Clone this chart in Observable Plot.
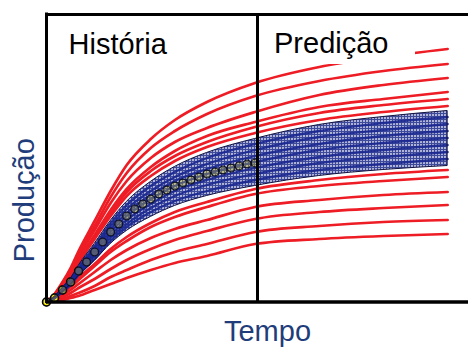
<!DOCTYPE html>
<html><head><meta charset="utf-8">
<script src="https://cdn.jsdelivr.net/npm/d3@7"></script>
<script src="https://cdn.jsdelivr.net/npm/@observablehq/plot@0.6"></script>
<style>
html,body{margin:0;padding:0;background:#fff;}
#wrap{position:relative;width:468px;height:347px;overflow:hidden;font-family:"Liberation Sans",Arial,sans-serif;}
#wrap svg{display:block;}
.box{position:absolute;box-sizing:border-box;background:#fff;color:#000;font-size:29px;line-height:29px;white-space:nowrap;}
</style></head><body><div id="wrap"></div>
<script>
// time steps (x) and production values (y)
const T = [0, 1, 2, 3, 4, 6, 8, 10, 13, 16, 20, 26, 34, 42, 50];
const splitT = 26.3;

// red realisations above the band
const redU1 = [0, 8, 20, 34, 51, 81, 111, 137, 163, 182, 200, 219, 235, 245, 253];
const redU2 = [0, 7, 19, 32, 48, 76, 105, 129, 154, 171, 188, 206, 221, 231, 238];
const redU3 = [0, 7, 18, 30, 45, 72, 99, 121, 144, 160, 174, 190, 207, 217, 224];
const redU4 = [0, 6, 17, 28, 42, 67, 92, 113, 135, 151, 166, 180, 195, 203, 210];
const redU5 = [0, 6, 16, 27, 41, 65, 89, 110, 131, 146, 160, 175, 189, 197, 203];
const redU6 = [0, 6, 16, 26, 39, 63, 86, 106, 126, 141, 155, 169, 182, 190, 196];
// red realisations below the band
const redL1 = [0, 3, 9, 16, 24, 38, 53, 65, 79, 90, 100, 113, 122, 128, 132];
const redL2 = [0, 3, 9, 15, 22, 36, 50, 61, 75, 85, 95, 108, 116, 121, 125];
const redL3 = [0, 2, 7, 12, 18, 30, 42, 52, 64, 73, 82, 95, 102, 107, 110];
const redL4 = [0, 1, 5, 9, 14, 23, 33, 42, 53, 62, 71, 83, 90, 94, 97];
const redL5 = [0, 1, 3, 6, 9, 16, 25, 32, 42, 50, 58, 70, 76, 80, 82];
const redL6 = [0, 1, 2, 4, 6, 12, 18, 24, 32, 39, 46, 58, 63, 66, 68];

// blue (history-matched) realisations forming the band
const blue1 = [0, 4, 10, 17, 26, 41, 58, 71, 85, 96, 106, 116, 126, 132, 136];
const blue2 = [0, 4, 10, 17, 27, 43, 61, 75, 90, 101, 111, 122, 132, 138, 143];
const blue3 = [0, 4, 11, 18, 28, 46, 64, 78, 94, 106, 117, 128, 139, 145, 150];
const blue4 = [0, 4, 11, 19, 30, 48, 67, 82, 98, 111, 122, 134, 145, 152, 157];
const blue5 = [0, 4, 12, 20, 31, 50, 70, 86, 103, 116, 128, 140, 152, 159, 164];
const blue6 = [0, 4, 12, 21, 32, 52, 73, 89, 107, 121, 133, 146, 158, 166, 171];
const blue7 = [0, 5, 13, 22, 33, 54, 76, 93, 111, 125, 138, 152, 165, 172, 178];
const blue8 = [0, 5, 14, 23, 35, 56, 79, 97, 116, 130, 144, 158, 171, 179, 185];
const blue9 = [0, 5, 14, 23, 36, 58, 81, 100, 120, 135, 149, 163, 177, 185, 191];

// observed history (yellow dots)
const dotT = [0,1,2,3,4,5,6,7,8,9,10,11,12,13,14,15,16,17,18,19,20,21,22,23,24,25,26];
const dotH = [0, 4, 12, 20, 31, 40, 50, 60, 70, 78, 86, 93, 98, 103, 108, 112, 116, 119, 122, 125, 128, 130, 132, 134, 136, 138, 139];

const labels = {y: "Produção", x: "Tempo", left: "História", right: "Predição"};

const toRows = (curves) => curves.flatMap((c, k) => T.map((t, i) => ({t, h: c[i], id: k})));
const redRows = toRows([redU1, redU2, redU3, redU4, redU5, redU6, redL1, redL2, redL3, redL4, redL5, redL6]);
const blueCurves = [blue1, blue2, blue3, blue4, blue5, blue6, blue7, blue8, blue9];
const innerRows = toRows(blueCurves.slice(1, -1));
const bandRows = T.map((t, i) => ({t, lo: blue1[i], hi: blue9[i]}));
const dotRows = dotT.map((t, i) => ({t, h: dotH[i]}));

const navy = "#1f3d7a";
const chart = Plot.plot({
  width: 468, height: 347,
  marginLeft: 46, marginRight: 0, marginTop: 14, marginBottom: 45.5,
  x: {domain: [0, 52.6], axis: null},
  y: {domain: [0, 287.5], axis: null},
  style: {fontFamily: "'Liberation Sans', Arial, sans-serif", background: "white"},
  marks: [
    Plot.line(redRows, {x: "t", y: "h", z: "id", stroke: "#ee1c24", strokeWidth: 2.7, curve: "monotone-x"}),
    Plot.dot(dotRows, {x: "t", y: "h", r: 4, fill: "#fff200", stroke: "#000", strokeWidth: 1.5}),
    Plot.areaY(bandRows, {x: "t", y1: "lo", y2: "hi", fill: "url(#bandGrid)", opacity: 0.88, curve: "monotone-x"}),
    Plot.line(innerRows, {x: "t", y: "h", z: "id", stroke: "#1a2790", strokeWidth: 2.3, strokeOpacity: 0.9, curve: "monotone-x"}),
    Plot.areaY(bandRows, {x: "t", y1: "lo", y2: "hi", fill: "none", stroke: "#101040", strokeWidth: 1, curve: "monotone-x"}),
    Plot.dot(dotRows, {x: "t", y: "h", r: 3.8, fill: "#d8cf3a", fillOpacity: 0.3, stroke: "#000", strokeOpacity: 0.7, strokeWidth: 1.3}),
    Plot.ruleX([splitT], {stroke: "#000", strokeWidth: 3}),
    Plot.ruleY([0], {stroke: "#000", strokeWidth: 3.5}),
    Plot.ruleY([287.5], {stroke: "#000", strokeWidth: 3}),
    Plot.ruleX([0], {stroke: "#000", strokeWidth: 3, strokeLinecap: "square"}),
    Plot.text([labels.left], {frameAnchor: "top-left", dx: 22, dy: 39, textAnchor: "start", lineAnchor: "bottom", fontSize: 29, fill: "#000"}),
    Plot.text([labels.y], {frameAnchor: "left", rotate: -90, dx: -13, dy: 42, textAnchor: "middle", lineAnchor: "bottom", fontSize: 29, fill: navy}),
    Plot.text([labels.x], {frameAnchor: "bottom", dx: 10, dy: 39, textAnchor: "middle", lineAnchor: "bottom", fontSize: 29, fill: navy})
  ]
});

const ns = "http://www.w3.org/2000/svg";
const defs = document.createElementNS(ns, "defs");
defs.innerHTML = '<pattern id="bandGrid" width="3" height="3" patternUnits="userSpaceOnUse"><rect width="3" height="3" fill="#24318c"/><rect width="2" height="2" fill="#a4a9d2"/></pattern>';
chart.insertBefore(defs, chart.firstChild);

const wrap = document.getElementById("wrap");
wrap.appendChild(chart);
const box = document.createElement("div");
box.className = "box";
box.style.left = "265px"; box.style.top = "16px"; box.style.width = "150px"; box.style.height = "48px";
box.style.paddingLeft = "9px"; box.style.paddingTop = "12.5px";
box.textContent = labels.right;
wrap.appendChild(box);
</script></body></html>
